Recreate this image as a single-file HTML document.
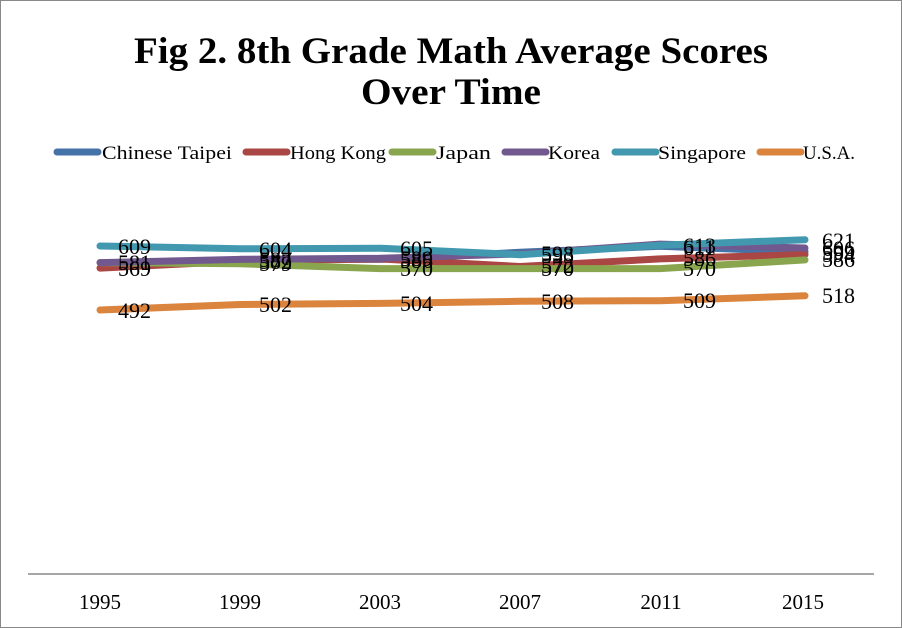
<!DOCTYPE html>
<html><head><meta charset="utf-8"><style>
html,body{margin:0;padding:0;background:#fff}
svg{display:block}
text{font-family:"Liberation Serif","DejaVu Serif",serif;fill:#000}
</style></head><body>
<svg width="902" height="628" viewBox="0 0 902 628">
<rect x="0.5" y="0.5" width="901" height="627" fill="#fff" stroke="#888"/>
<text x="134" y="63" font-size="37" font-weight="bold" textLength="634" lengthAdjust="spacingAndGlyphs">Fig 2. 8th Grade Math Average Scores</text>
<text x="361" y="104" font-size="37" font-weight="bold" textLength="180" lengthAdjust="spacingAndGlyphs">Over Time</text>
<g stroke-width="7" stroke-linecap="round">
<line x1="57" y1="152" x2="98" y2="152" stroke="#4572a7"/>
<line x1="246" y1="152" x2="287" y2="152" stroke="#aa4643"/>
<line x1="392" y1="152" x2="433" y2="152" stroke="#89a54e"/>
<line x1="505" y1="152" x2="546" y2="152" stroke="#71588f"/>
<line x1="615" y1="152" x2="656" y2="152" stroke="#4198af"/>
<line x1="760" y1="152" x2="801" y2="152" stroke="#db843d"/>
</g>
<g font-size="19">
<text x="102" y="159" textLength="130" lengthAdjust="spacingAndGlyphs">Chinese Taipei</text>
<text x="290" y="159" textLength="96" lengthAdjust="spacingAndGlyphs">Hong Kong</text>
<text x="436" y="159" textLength="55" lengthAdjust="spacingAndGlyphs">Japan</text>
<text x="548" y="159" textLength="52" lengthAdjust="spacingAndGlyphs">Korea</text>
<text x="658" y="159" textLength="88" lengthAdjust="spacingAndGlyphs">Singapore</text>
<text x="803" y="159" textLength="52" lengthAdjust="spacingAndGlyphs">U.S.A.</text>
</g>
<g fill="none" stroke-width="7" stroke-linecap="round" stroke-linejoin="round">
<polyline stroke="#4572a7" points="240,259.4 380,259.4 520,252.3 660,246.3 805,251.8"/>
<polyline stroke="#aa4643" points="100,268.1 240,261.1 380,258.9 520,266.5 660,258.9 805,254.5"/>
<polyline stroke="#89a54e" points="100,262.6 240,263.7 380,268.6 520,268.6 660,268.6 805,259.9"/>
<polyline stroke="#71588f" points="100,262.6 240,259.4 380,258.3 520,253.9 660,244.1 805,248.0"/>
<polyline stroke="#4198af" points="100,246 240,248.8 380,248.2 520,254.7 660,245.2 805,239.7"/>
<polyline stroke="#db843d" points="100,310 240,304.5 380,303.4 520,301.3 660,300.7 805,295.8"/>
</g>
<g font-size="22" dominant-baseline="middle">
<text x="118" y="249">609</text><text x="118" y="265">581</text><text x="118" y="271">569</text><text x="118" y="313">492</text>
<text x="259" y="252">604</text><text x="259" y="262">587</text><text x="259" y="264">582</text><text x="259" y="266">579</text><text x="259" y="307">502</text>
<text x="400" y="251">605</text><text x="400" y="261">589</text><text x="400" y="263">586</text><text x="400" y="271">570</text><text x="400" y="306">504</text>
<text x="541" y="256">598</text><text x="541" y="258">593</text><text x="541" y="268">572</text><text x="541" y="271">570</text><text x="541" y="304">508</text>
<text x="683" y="248">613</text><text x="683" y="250">611</text><text x="683" y="261">586</text><text x="683" y="271">570</text><text x="683" y="303">509</text>
<text x="822" y="243">621</text><text x="822" y="251">606</text><text x="822" y="255">599</text><text x="822" y="257">594</text><text x="822" y="262">586</text><text x="822" y="298">518</text>
</g>
<line x1="28" y1="574" x2="874" y2="574" stroke="#888" stroke-width="1.5"/>
<g font-size="21" text-anchor="middle">
<text x="100" y="609">1995</text><text x="240" y="609">1999</text><text x="380" y="609">2003</text>
<text x="520" y="609">2007</text><text x="661" y="609">2011</text><text x="803" y="609">2015</text>
</g>
</svg>
</body></html>
